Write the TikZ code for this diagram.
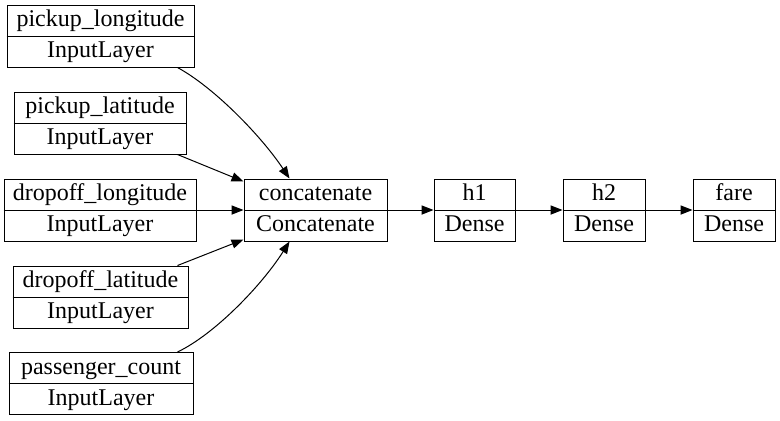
\documentclass[tikz,border=0pt]{standalone}
\usepackage{fontspec}
\setmainfont{Liberation Serif}
\usetikzlibrary{arrows.meta,calc}
\tikzset{
 recbox/.style={draw, line width=0.5pt, inner sep=0pt, minimum height=31pt},
 rectxt/.style={inner sep=0pt, text height=0.7em, text depth=0.25em, font=\fontsize{12}{14}\selectfont},
 edge/.style={draw, line width=0.5pt, -{Triangle[length=6pt,width=4.6pt]}}
}
\newcommand\recnode[6]{%
 \node[recbox, minimum width=#4*0.5pt] (#1) at (#2,#3) {};
 \draw[line width=0.5pt] (#1.west) -- (#1.east);
 \node[rectxt] (#1-t) at ($(#1.center)+(0,-14)$) {#5};
 \node[rectxt] (#1-b) at ($(#1.center)+(0,17)$) {#6};
}
\begin{document}
\begin{tikzpicture}[x=0.5pt,y=-0.5pt]
\useasboundingbox (0,0) rectangle (780,420);
\recnode{pl}{100.5}{36}{187}{pickup\_longitude}{InputLayer}
\recnode{plat}{100}{123}{172}{pickup\_latitude}{InputLayer}
\recnode{dl}{100}{210}{192}{dropoff\_longitude}{InputLayer}
\recnode{dlat}{100.5}{297}{175}{dropoff\_latitude}{InputLayer}
\recnode{pc}{101}{383.5}{184}{passenger\_count}{InputLayer}
\recnode{cc}{315.5}{210}{143}{concatenate}{Concatenate}
\recnode{hone}{474.5}{210}{81}{h1}{Dense}
\recnode{htwo}{604}{210}{82}{h2}{Dense}
\recnode{fare}{734}{210}{82}{fare}{Dense}
\draw[edge] ($(pl.south east)+(-17,0)$) .. controls (215,88) and (262,137) .. ($(cc.north west)+(46,0)$);
\draw[edge] ($(plat.south east)+(-9,0)$) -- ($(cc.north west)+(0,3)$);
\draw[edge] (dl.east) -- (cc.west);
\draw[edge] ($(dlat.north east)+(-11,0)$) -- ($(cc.south west)+(0,-2)$);
\draw[edge] ($(pc.north east)+(-16,0)$) .. controls (215,334) and (262,285) .. ($(cc.south west)+(46,0)$);
\draw[edge] (cc.east) -- (hone.west);
\draw[edge] (hone.east) -- (htwo.west);
\draw[edge] (htwo.east) -- (fare.west);
\end{tikzpicture}
\end{document}
